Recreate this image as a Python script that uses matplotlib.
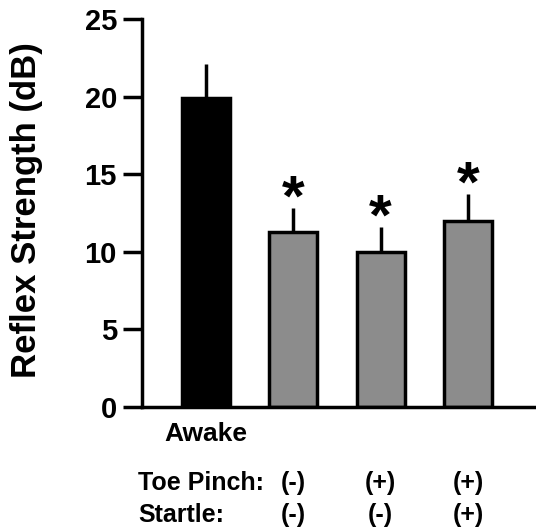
import matplotlib
matplotlib.use("Agg")
import matplotlib.pyplot as plt

# values
groups = ["Awake", "Anes 1", "Anes 2", "Anes 3"]
means = [19.9, 11.3, 10.0, 12.0]
errors = [2.2, 1.5, 1.6, 1.7]
significant = [False, True, True, True]
toe_pinch = ["(-)", "(+)", "(+)"]
startle = ["(-)", "(-)", "(+)"]
bar_colors = ["black", "#8c8c8c", "#8c8c8c", "#8c8c8c"]

plt.rcParams["font.family"] = ["Liberation Sans", "DejaVu Sans"]
plt.rcParams["font.weight"] = "bold"

fig = plt.figure(figsize=(5.36, 5.30), dpi=100)
# axes placed in pixel terms: left 142, right 536, bottom 406.7, top 19.3
ax = fig.add_axes([142 / 536, 1 - 406.7 / 530, (536 - 142) / 536, (406.7 - 19.3) / 530])

x = list(range(len(groups)))
ax.bar(x, means, width=0.55, color=bar_colors, edgecolor="black", linewidth=2.5, zorder=2)
ax.errorbar(x, means, yerr=[[0] * len(means), errors], fmt="none", ecolor="black",
            elinewidth=2.5, capsize=0, zorder=1)

# significance stars
for xi, m, e, s in zip(x, means, errors, significant):
    if s:
        ax.text(xi, m + e - 1.25, "*", ha="center", va="bottom", fontsize=42, fontweight="bold")

ax.set_xlim(-0.733, 3.78)
ax.set_ylim(0, 25)
ax.set_yticks([0, 5, 10, 15, 20, 25])
ax.set_xticks([])
ax.tick_params(axis="y", direction="out", length=14, width=2.5, labelsize=21, pad=4)
for lbl in ax.get_yticklabels():
    lbl.set_fontweight("bold")
ax.spines["top"].set_visible(False)
ax.spines["right"].set_visible(False)
ax.spines["left"].set_linewidth(2.5)
ax.spines["bottom"].set_linewidth(2.5)
ax.spines["left"].set_bounds(0, 25)

ax.set_ylabel("Reflex Strength (dB)", fontsize=25, fontweight="bold")
ax.yaxis.set_label_coords(-0.251, 0.508)

# labels under the axis
ax.text(x[0], -1.0, groups[0], ha="center", va="top", fontsize=19, fontweight="bold")
fig.text(138 / 536, 1 - 483 / 530, "Toe Pinch:", ha="left", va="center", fontsize=18, fontweight="bold")
fig.text(138 / 536, 1 - 515 / 530, "Startle:", ha="left", va="center", fontsize=18, fontweight="bold")
for xi, tp, st in zip(x[1:], toe_pinch, startle):
    xp = ax.transData.transform((xi, 0))[0] / fig.bbox.width
    fig.text(xp, 1 - 483 / 530, tp, ha="center", va="center", fontsize=18, fontweight="bold")
    fig.text(xp, 1 - 515 / 530, st, ha="center", va="center", fontsize=18, fontweight="bold")

fig.savefig("out.png", dpi=100)
